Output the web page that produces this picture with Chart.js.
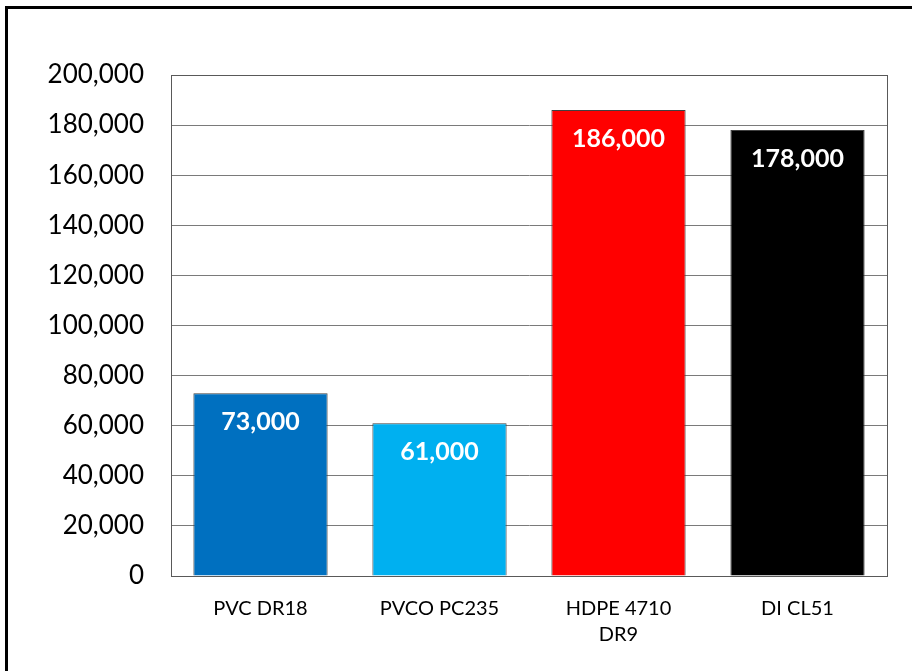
<!DOCTYPE html>
<html>
<head>
<meta charset="utf-8">
<script src="https://cdn.jsdelivr.net/npm/chart.js@4.4.1/dist/chart.umd.min.js"></script>
<style>
  html,body{margin:0;padding:0;background:#fff;overflow:hidden;}
  #frame{position:absolute;left:5px;top:6px;width:920px;height:680px;border:3px solid #000;box-sizing:border-box;}
  #wrap{position:absolute;left:0;top:0;width:912px;height:671px;}
</style>
</head>
<body>
<div id="frame"></div>
<div id="wrap"><canvas id="chart"></canvas></div>
<script>
// Data
const categories=['PVC DR18','PVCO PC235',['HDPE 4710','DR9'],'DI CL51'];
const values=[73000,61000,186000,178000];
const barColors=['#0070C0','#00B0F0','#FF0000','#000000'];
const yMin=0, yMax=200000, yStep=20000;

const fmt=v=>v.toLocaleString('en-US');

// white value labels inside the top of each bar
const valueLabels={
  id:'valueLabels',
  afterDatasetsDraw(chart){
    const c=chart.ctx;
    const meta=chart.getDatasetMeta(0);
    c.save();
    c.fillStyle='#fff';
    c.font='bold 25px Lato';
    c.textAlign='center';
    c.textBaseline='middle';
    meta.data.forEach((bar,i)=>{c.fillText(fmt(values[i]),bar.x,bar.y+29);});
    c.restore();
  }
};

// plot area outline
const plotBorder={
  id:'plotBorder',
  beforeDatasetsDraw(chart){
    const {left,top,right,bottom}=chart.chartArea;
    const c=chart.ctx;
    c.save();
    c.strokeStyle='#595959';
    c.lineWidth=1;
    c.strokeRect(left+0.5,top+0.5,right-left,bottom-top);
    c.restore();
  }
};

new Chart(document.getElementById('chart'),{
  type:'bar',
  data:{labels:categories,datasets:[{data:values,backgroundColor:barColors,borderColor:'#404040',borderWidth:1,categoryPercentage:1,barPercentage:0.75}]},
  options:{
    responsive:true,maintainAspectRatio:false,animation:false,
    layout:{padding:{left:0,right:25,top:75,bottom:0}},
    plugins:{legend:{display:false},tooltip:{enabled:false}},
    scales:{
      x:{
        grid:{display:false},
        border:{color:'#000'},
        ticks:{color:'#000',font:{family:'Lato',size:20,lineHeight:1.3},padding:12,maxRotation:0,autoSkip:false},
        afterFit(s){s.height=95;}
      },
      y:{
        min:yMin,max:yMax,
        grid:{color:'#7a7a7a',drawTicks:false,tickLength:0},
        border:{color:'#000'},
        ticks:{stepSize:yStep,color:'#000',font:{family:'Lato',size:26},padding:27,callback:v=>fmt(v)},
        afterFit(s){s.width=171;}
      }
    }
  },
  plugins:[plotBorder,valueLabels]
});
</script>
</body>
</html>
